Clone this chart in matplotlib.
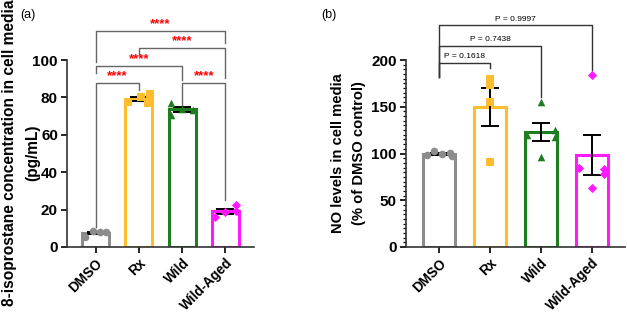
import numpy as np
import matplotlib
matplotlib.use("Agg")
import matplotlib.pyplot as plt

plt.rcParams['font.family'] = ['Liberation Sans', 'DejaVu Sans']

groups = ["DMSO", "Rx", "Wild", "Wild-Aged"]
colors = ["#8c8c8c", "#fdbd2e", "#1e7d1e", "#ff19ff"]
markers = ["o", "s", "^", "D"]

# panel (a): 8-isoprostane, pg/mL
iso_vals = [[5.5, 8.5, 8.0, 8.0],
            [82.0, 80.0, 77.5, 77.0],
            [77.0, 70.5, 74.0, 73.0],
            [22.5, 18.5, 16.0, 19.0]]
iso_jit = [[-0.25, -0.05, 0.1, 0.25],
           [0.25, 0.05, -0.25, 0.2],
           [-0.25, -0.25, 0.0, 0.25],
           [0.25, 0.0, -0.25, 0.25]]

# panel (b): NO levels, % of DMSO
no_vals = [[103, 101, 100, 98, 97],
           [180, 173, 155, 91],
           [155, 125, 120, 118, 96],
           [184, 85, 83, 78, 63]]
no_jit = [[-0.1, 0.2, 0.05, -0.25, 0.25],
          [0.0, 0.0, 0.0, 0.0],
          [0.0, 0.27, -0.27, 0.27, 0.0],
          [0.0, -0.25, 0.25, 0.25, 0.0]]

iso_brackets = [(0, 3, 115.5, 99, 109, "****"),
                (1, 3, 106.4, 102.7, 90.4, "****"),
                (0, 2, 96.8, 93, 89.3, "****"),
                (0, 1, 87.7, 10.5, 84, "****"),
                (2, 3, 87.7, 76, 25, "****")]
no_brackets = [(0, 3, 237, 182, 189, "P = 0.9997"),
               (0, 2, 215, 182, 160, "P = 0.7438"),
               (0, 1, 197, 182, 191, "P = 0.1618")]

fig = plt.figure(figsize=(6.27, 3.12), dpi=100)
axa = fig.add_axes([67/627, 1-247/312, (254-67)/627, 187/312])
axb = fig.add_axes([406/627, 1-247/312, (625-406)/627, 187/312])


def panel(ax, vals, jit, ylim, ystep, minor, brackets, stars):
    x = np.arange(len(groups))
    for i, v in enumerate(vals):
        v = np.array(v)
        m = v.mean()
        se = v.std(ddof=1) / np.sqrt(len(v))
        ax.bar(i, m, width=0.63, facecolor="white", edgecolor=colors[i],
               linewidth=2.2, zorder=2)
        ax.errorbar(i, m, yerr=se, color="black", capsize=6.5, elinewidth=1.4,
                    capthick=1.4, zorder=3)
        ax.scatter(i + np.array(jit[i]), v, marker=markers[i], color=colors[i],
                   s=30 if markers[i] != "D" else 22, zorder=4, clip_on=False,
                   linewidths=0)
    ax.set_xlim(-0.66, 3.66)
    ax.set_ylim(*ylim)
    ax.set_yticks(np.arange(ylim[0], ylim[1] + 1, ystep))
    if minor:
        ax.set_yticks(np.arange(ylim[0], ylim[1] + 1, minor), minor=True)
        ax.tick_params(axis="y", which="minor", length=2.5, width=0.9)
    ax.set_xticks(x)
    ax.set_xticklabels(groups, rotation=45, ha="right", va="top",
                       rotation_mode="anchor", fontweight="bold", fontsize=9.8)
    for lab in ax.get_yticklabels():
        lab.set_fontweight("bold")
        lab.set_fontsize(11)
    ax.tick_params(axis="both", which="major", length=4.5, width=1.2, pad=2)
    for s in ["top", "right"]:
        ax.spines[s].set_visible(False)
    for s in ["left", "bottom"]:
        ax.spines[s].set_linewidth(1.2)
        ax.spines[s].set_color("#333333")
    for i, j, y, yl, yr, t in brackets:
        ax.plot([i, i, j, j], [yl, y, y, yr], color="#666666" if stars else "#333333",
                lw=1.0, clip_on=False, zorder=1)
        if stars:
            ax.text((i + j) / 2, y + 0.3, t, color="red", ha="center", va="bottom",
                    fontsize=9.5, fontweight="bold")
        else:
            ax.text((i + j) / 2, y + 3, t, color="black", ha="center", va="bottom",
                    fontsize=6)


panel(axa, iso_vals, iso_jit, (0, 100), 20, None, iso_brackets, True)
panel(axb, no_vals, no_jit, (0, 200), 50, 5, no_brackets, False)

fig.text(10/627, 1-153/312, "8-isoprostane concentration in cell media", rotation=90,
         ha="center", va="center", fontsize=11.2, fontweight="bold")
fig.text(33/627, 1-153/312, "(pg/mL)", rotation=90,
         ha="center", va="center", fontsize=11.2, fontweight="bold")
fig.text(338/627, 1-153/312, "NO levels in cell media", rotation=90,
         ha="center", va="center", fontsize=10.6, fontweight="bold")
fig.text(359/627, 1-153/312, "(% of DMSO control)", rotation=90,
         ha="center", va="center", fontsize=10.6, fontweight="bold")
fig.text(20/627, 1-15/312, "(a)", fontsize=9, va="center")
fig.text(321/627, 1-15/312, "(b)", fontsize=9, va="center")

fig.savefig("out.png", dpi=100)
